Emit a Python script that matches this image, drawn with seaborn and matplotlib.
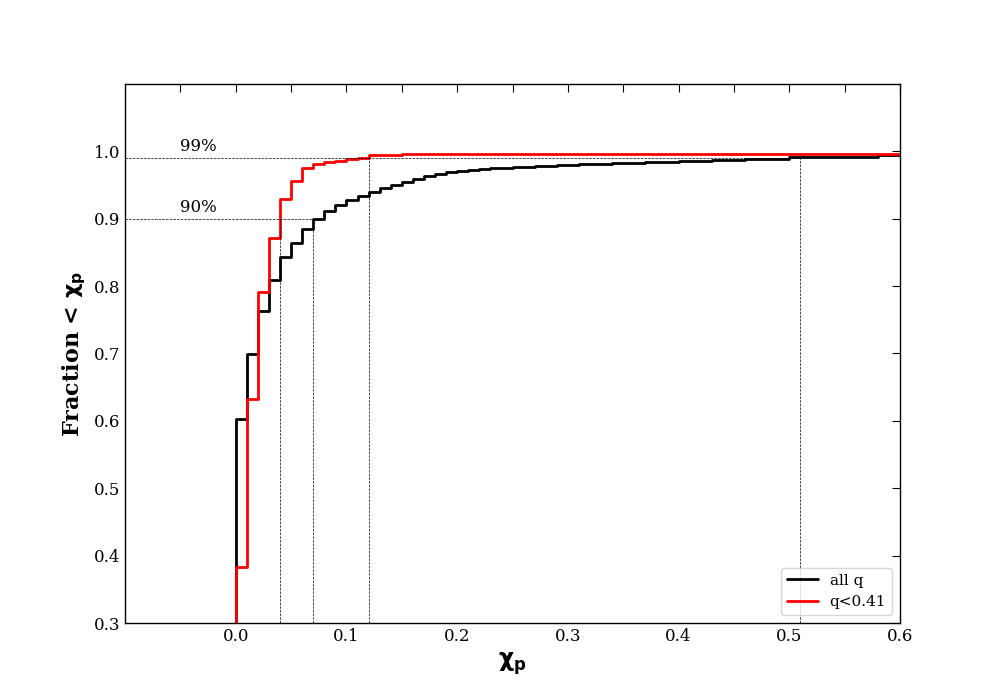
import numpy as np
import pandas as pd
import seaborn as sns
import matplotlib
matplotlib.use("Agg")
import matplotlib.pyplot as plt

# bin edges in chi_p and cumulative fractions
chi_edges = [0.00, 0.01, 0.02, 0.03, 0.04, 0.05, 0.06, 0.07, 0.08, 0.09,
             0.10, 0.11, 0.12, 0.13, 0.14, 0.15, 0.16, 0.17, 0.18, 0.19,
             0.20, 0.21, 0.22, 0.23, 0.24, 0.25, 0.26, 0.27, 0.28, 0.29,
             0.30, 0.31, 0.32, 0.33, 0.34, 0.35, 0.36, 0.37, 0.38, 0.39,
             0.40, 0.41, 0.42, 0.43, 0.44, 0.45, 0.46, 0.47, 0.48, 0.49,
             0.50, 0.51, 0.52, 0.53, 0.54, 0.55, 0.56, 0.57, 0.58, 0.59,
             0.60]

frac_all = [0.603, 0.700, 0.763, 0.809, 0.843, 0.864, 0.885, 0.899, 0.912, 0.920,
            0.928, 0.934, 0.940, 0.945, 0.950, 0.955, 0.959, 0.963, 0.967, 0.969,
            0.971, 0.972, 0.974, 0.975, 0.975, 0.977, 0.977, 0.978, 0.978, 0.980,
            0.980, 0.982, 0.982, 0.982, 0.983, 0.983, 0.983, 0.984, 0.984, 0.984,
            0.986, 0.986, 0.986, 0.987, 0.987, 0.987, 0.989, 0.989, 0.989, 0.989,
            0.991, 0.991, 0.991, 0.991, 0.991, 0.992, 0.992, 0.992, 0.994, 0.994,
            0.994]

frac_low_q = [0.383, 0.633, 0.791, 0.871, 0.930, 0.956, 0.975, 0.981, 0.984, 0.986,
              0.988, 0.990, 0.994, 0.994, 0.994, 0.996, 0.996, 0.996, 0.996, 0.996,
              0.996, 0.996, 0.996, 0.996, 0.996, 0.996, 0.996, 0.996, 0.996, 0.996,
              0.996, 0.996, 0.996, 0.996, 0.996, 0.996, 0.996, 0.996, 0.996, 0.996,
              0.996, 0.996, 0.996, 0.996, 0.996, 0.996, 0.996, 0.996, 0.996, 0.996,
              0.996, 0.996, 0.996, 0.996, 0.996, 0.996, 0.996, 0.996, 0.996, 0.996,
              0.996]

labels = ["all q", "q<0.41"]
colors = {"all q": "black", "q<0.41": "red"}

# chi_p where each curve passes 90% / 99%
pct_levels = [0.90, 0.99]
pct_text = ["90%", "99%"]
cross_low_q = [0.04, 0.12]
cross_all = [0.07, 0.51]

sns.set_style("white")
plt.rcParams["font.family"] = ["DejaVu Serif"]
plt.rcParams["mathtext.fontset"] = "dejavusans"
for key in ["text.color", "axes.labelcolor", "xtick.color", "ytick.color"]:
    plt.rcParams[key] = "black"

rows = []
for name, vals in zip(labels, [frac_all, frac_low_q]):
    # start each curve from zero at chi_p = 0
    rows.append({"chi": 0.0, "frac": 0.0, "sample": name})
    for x, v in zip(chi_edges, vals):
        rows.append({"chi": x, "frac": v, "sample": name})
df = pd.DataFrame(rows)

fig, ax = plt.subplots(figsize=(10, 7), dpi=100)

sns.lineplot(data=df, x="chi", y="frac", hue="sample", palette=colors,
             estimator=None, sort=False, drawstyle="steps-post", lw=2, ax=ax)

# guide lines
for lev, xl, xa in zip(pct_levels, cross_low_q, cross_all):
    ax.hlines(lev, -0.1, xa, colors="black", linestyles="--", lw=0.5)
    ax.vlines([xl, xa], 0.3, lev, colors="black", linestyles="--", lw=0.5)
for lev, txt in zip(pct_levels, pct_text):
    ax.text(-0.05, lev + 0.01, txt, fontsize=12)

ax.set_xlim(-0.1, 0.6)
ax.set_ylim(0.3, 1.1)
ax.set_xticks(np.arange(0, 0.61, 0.1))
ax.set_xticks(np.arange(-0.05, 0.6, 0.1), minor=True)
ax.set_yticks(np.arange(0.3, 1.01, 0.1))
ax.tick_params(which="both", direction="in", top=True, right=True,
               length=6, width=0.8, labelsize=12, color="black")

for sp in ax.spines.values():
    sp.set_color("black")
    sp.set_linewidth(1)

ax.set_xlabel(r"$\mathbf{\chi_p}$", fontsize=17)
ax.set_ylabel(r"Fraction < $\mathbf{\chi_p}$", fontsize=16, fontweight="bold")

ax.legend(loc="lower right", fontsize=11, title=None)

plt.savefig("out.png", dpi=100)
